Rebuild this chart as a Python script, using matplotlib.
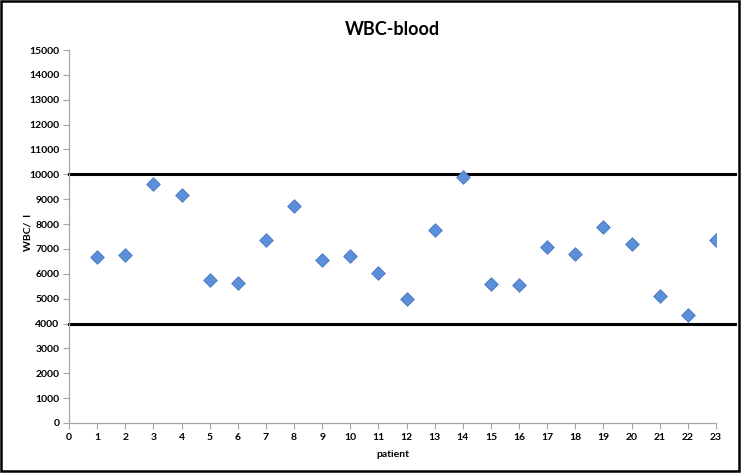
import matplotlib.pyplot as plt
from matplotlib.patches import Rectangle

# WBC values per patient
patients = list(range(1, 24))
wbc = [6660, 6770, 9610, 9150, 5760, 5650, 7350, 8710, 6560, 6700,
       6040, 4980, 7780, 9890, 5600, 5560, 7090, 6800, 7880, 7210,
       5110, 4350, 7340]
# reference limits
limits = [4000, 10000]

plt.rcParams['font.family'] = ['Lato', 'DejaVu Sans']

fig = plt.figure(figsize=(7.41, 4.75), dpi=100)
ax = fig.add_axes([0.0931, 0.1095, 0.8732, 0.7852])

ax.scatter(patients, wbc, marker='D', s=48, color='#5B8FDA',
           edgecolor='#4677C0', linewidth=0.6, zorder=3)

for lim in limits:
    ax.axhline(lim, xmin=0, xmax=1.03, color='black', linewidth=2.2,
               clip_on=False, zorder=2)

ax.set_xlim(0, 23)
ax.set_ylim(0, 15000)
ax.set_xticks(range(0, 24))
ax.set_yticks(range(0, 15001, 1000))

for s in ['top', 'right']:
    ax.spines[s].set_visible(False)
for s in ['left', 'bottom']:
    ax.spines[s].set_color('#A6A6A6')
    ax.spines[s].set_linewidth(0.9)
ax.tick_params(axis='both', direction='out', length=4, width=0.8,
               color='#A6A6A6', labelsize=7.5, pad=3)
for lbl in ax.get_xticklabels() + ax.get_yticklabels():
    lbl.set_fontweight('bold')

ax.set_title('WBC-blood', fontsize=13, fontweight='bold', pad=11)
ax.set_xlabel('patient', fontsize=7.5, fontweight='bold', labelpad=6)
ax.set_ylabel('WBC/  l', fontsize=7.5, fontweight='bold')
ax.yaxis.set_label_coords(-0.057, 0.51)

fig.patches.append(Rectangle((0.002, 0.008), 0.995, 0.99, transform=fig.transFigure,
                             fill=False, edgecolor='black', linewidth=1.8))

fig.savefig('out.png', dpi=100)
